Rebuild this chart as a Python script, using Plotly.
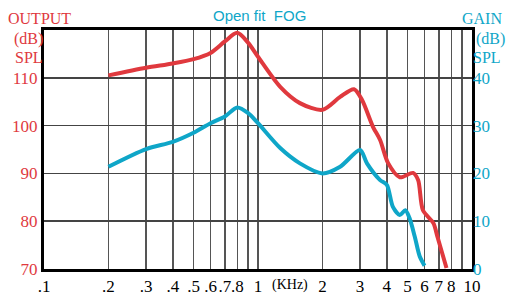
import plotly.graph_objects as go

# OUTPUT (dB SPL) curve, left axis
freq_out = [0.2, 0.3, 0.4, 0.5, 0.6, 0.7, 0.8, 0.9, 1.0, 1.27, 1.57, 2.0, 2.42, 2.81, 3.06, 3.45, 3.72, 4.05, 4.6, 5.3, 5.6, 5.9, 6.6, 6.9, 7.6]
output_db = [110.5, 112.1, 113.0, 113.9, 115.2, 117.6, 119.4, 117.3, 114.4, 108.1, 104.7, 103.3, 106.0, 107.6, 105.4, 99.7, 97.0, 92.2, 89.2, 90.1, 88.6, 82.3, 79.6, 76.7, 70.2]

# GAIN (dB) curve, right axis
freq_gain = [0.2, 0.3, 0.4, 0.5, 0.6, 0.7, 0.8, 0.9, 1.0, 1.27, 1.57, 2.0, 2.42, 3.0, 3.23, 3.72, 4.0, 4.27, 4.6, 4.88, 5.1, 5.4, 5.7, 6.0]
gain_db = [21.4, 25.1, 26.6, 28.5, 30.5, 31.9, 33.8, 32.6, 30.5, 25.3, 22.1, 20.0, 21.4, 24.9, 22.1, 18.6, 17.6, 13.0, 11.3, 12.3, 10.7, 6.8, 2.6, 0.7]

x_tickvals = [0.1, 0.2, 0.3, 0.4, 0.5, 0.6, 0.7, 0.8, 0.9, 1, 2, 3, 4, 5, 6, 7, 8, 9, 10]
x_ticktext = [".1", ".2", ".3", ".4", ".5", ".6", ".7", ".8", "", "1", "2", "3", "4", "5", "6", "7", "8", "", "10"]
left_ticks = [70, 80, 90, 100, 110]
right_ticks = [0, 10, 20, 30, 40]

RED = "#E0393E"
BLUE = "#0FA6C8"
SERIF = "Liberation Serif"

W, H = 507, 295
L, R, T, B = 44, 35, 30, 26

fig = go.Figure()
fig.add_trace(go.Scatter(x=freq_out, y=output_db, mode="lines",
                         line=dict(color=RED, width=4, shape="spline", smoothing=0.8),
                         yaxis="y", showlegend=False, hoverinfo="skip"))
fig.add_trace(go.Scatter(x=freq_gain, y=gain_db, mode="lines",
                         line=dict(color=BLUE, width=4, shape="spline", smoothing=0.8),
                         yaxis="y2", showlegend=False, hoverinfo="skip"))

fig.update_layout(
    width=W, height=H,
    margin=dict(l=L, r=R, t=T, b=B),
    paper_bgcolor="white", plot_bgcolor="white",
    xaxis=dict(type="log", range=[-1, 1], tickvals=x_tickvals, ticktext=x_ticktext,
               tickangle=0, automargin=False,
               showgrid=True, gridcolor="#555555", gridwidth=1.5,
               showline=True, linecolor="black", linewidth=3, mirror=True,
               ticks="", tickfont=dict(family=SERIF, size=17, color="black"),
               zeroline=False),
    yaxis=dict(range=[70, 120], tickvals=left_ticks, automargin=False,
               showgrid=True, gridcolor="#444444", gridwidth=1.5,
               showline=True, linecolor="black", linewidth=3, mirror=True,
               ticks="", tickfont=dict(family=SERIF, size=17, color=RED),
               zeroline=False),
    yaxis2=dict(range=[0, 50], tickvals=right_ticks, overlaying="y", side="right",
                automargin=False,
                showgrid=False, showline=False, ticks="",
                tickfont=dict(family=SERIF, size=17, color=BLUE), zeroline=False),
)


def px(x):
    return (x - L) / (W - L - R)


def py(y):
    return (H - B - y) / (H - T - B)


annos = [
    dict(text="OUTPUT", x=39, y=18, color=RED),
    dict(text="(dB)", x=28, y=39, color=RED),
    dict(text="SPL", x=29, y=57, color=RED),
    dict(text="GAIN", x=482, y=18, color=BLUE),
    dict(text="(dB)", x=490, y=39, color=BLUE),
    dict(text="SPL", x=487, y=57, color=BLUE),
]
for a in annos:
    fig.add_annotation(text=a["text"], x=px(a["x"]), y=py(a["y"]),
                       xref="paper", yref="paper", showarrow=False,
                       xanchor="center", yanchor="middle",
                       font=dict(family=SERIF, size=16, color=a["color"]))
fig.add_annotation(text="Open fit  FOG", x=px(259), y=py(16), xref="paper", yref="paper",
                   showarrow=False, xanchor="center", yanchor="middle",
                   font=dict(family="Liberation Sans", size=15, color=BLUE))
fig.add_annotation(text="(KHz)", x=px(290), y=py(285), xref="paper", yref="paper",
                   showarrow=False, xanchor="center", yanchor="middle",
                   font=dict(family=SERIF, size=14, color="black"))

fig.write_html("out.html", config={"displayModeBar": False, "staticPlot": True},
               post_script="document.body.style.margin='0';document.body.style.overflow='hidden';")
